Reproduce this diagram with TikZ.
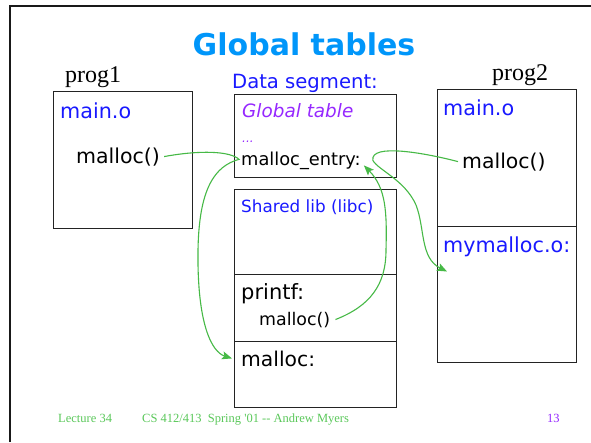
\documentclass[tikz,border=0pt]{standalone}
\usepackage{fontspec}
\setmainfont{DejaVu Sans}
\newfontfamily\serifp{Liberation Serif}
\usetikzlibrary{arrows.meta}
\definecolor{tblue}{RGB}{25,25,255}
\definecolor{tpurple}{RGB}{150,40,255}
\definecolor{ttitle}{RGB}{0,150,250}
\definecolor{tgreen}{RGB}{70,185,70}
\definecolor{fgreen}{RGB}{90,200,90}
\definecolor{boxline}{RGB}{35,35,35}
\begin{document}
\begin{tikzpicture}[x=1pt,y=-1pt,
  lbl/.style={inner sep=0pt, anchor=base west},
  membox/.style={draw=boxline, line width=1.4pt, anchor=north west, inner sep=0pt},
  link/.style={draw=tgreen, line width=1.1pt},
  arr/.style={link, -{Stealth[length=10pt,width=8pt,inset=2pt]}}
]
\useasboundingbox (0,0) rectangle (591,442);
\fill[white] (0,0) rectangle (591,442);
% frame
\draw[line width=2.6pt, black!90] (10,442) -- (10,6) -- (591,6);

% title
\node[inner sep=0pt, anchor=base, text=ttitle, font=\fontsize{30}{34}\selectfont\bfseries] (title) at (304,55) {Global tables};
\node[lbl, font=\serifp\fontsize{24}{28}\selectfont] (p1) at (65,82) {prog1};
\node[lbl, font=\serifp\fontsize{24}{28}\selectfont] (p2) at (492,80) {prog2};
\node[lbl, text=tblue, font=\fontsize{19.6}{23}\selectfont] (ds) at (232,88) {Data segment:};

% boxes
\node[membox, minimum width=139pt, minimum height=137pt] (b1) at (53,91) {};
\node[membox, minimum width=162pt, minimum height=83pt] (gt) at (234,94) {};
\node[membox, minimum width=162pt, minimum height=85pt] (sl) at (234,189) {};
\node[membox, minimum width=162pt, minimum height=67pt] (pf) at (234,274) {};
\node[membox, minimum width=162pt, minimum height=66pt] (ml) at (234,341) {};
\node[membox, minimum width=139pt, minimum height=137pt] (b2) at (437,89) {};
\node[membox, minimum width=139pt, minimum height=136pt] (b3) at (437,226) {};

% prog1 texts
\node[lbl, text=tblue, font=\fontsize{20.7}{24}\selectfont] (mo1) at (60,118) {main.o};
\node[lbl, font=\fontsize{20.5}{24}\selectfont] (m1) at (76,163) {malloc()};

% data segment texts
\node[lbl, text=tpurple, font=\fontsize{18.4}{22}\selectfont\itshape] (gtt) at (242,117) {Global table};
\node[lbl, text=tpurple, font=\fontsize{12}{14}\selectfont\itshape] (dots) at (242,142) {...};
\node[lbl, font=\fontsize{17.8}{21}\selectfont] (entry) at (241,165) {malloc\_entry:};
\node[lbl, text=tblue, font=\fontsize{16.8}{20}\selectfont] (slt) at (241,212) {Shared lib (libc)};
\node[lbl, font=\fontsize{21}{25}\selectfont] (pft) at (241,299) {printf:};
\node[lbl, font=\fontsize{17.4}{21}\selectfont] (m3) at (259,325) {malloc()};
\node[lbl, font=\fontsize{20.3}{24}\selectfont] (mal) at (241,366) {malloc:};

% prog2 texts
\node[lbl, text=tblue, font=\fontsize{20.7}{24}\selectfont] (mo2) at (443,115) {main.o};
\node[lbl, font=\fontsize{20.4}{24}\selectfont] (m2) at (462,168) {malloc()};
\node[lbl, text=tblue, font=\fontsize{20.7}{24}\selectfont] (mm) at (443,252) {mymalloc.o:};

% connectors
\coordinate (cusp1) at ([xshift=-2pt,yshift=1pt]entry.west);
\coordinate (cusp2) at ([xshift=12pt,yshift=0pt]entry.east);
\coordinate (tip1) at ([xshift=-9pt]mal.west);
\coordinate (tip2) at ([xshift=4pt,yshift=-15pt]mm.south west);
\coordinate (tip3) at ([xshift=3pt,yshift=4pt]entry.south east);

\draw[arr] ([xshift=4pt]m1.east) .. controls (200,150) and (230,151) .. (cusp1)
  .. controls (215,166) and (199,188) .. (198,250)
  .. controls (197,325) and (212,352) .. (tip1);
\draw[arr] ([xshift=-4pt]m2.west) .. controls (425,153) and (370,143) .. (cusp2)
  .. controls (378,170) and (405,180) .. (416,205)
  .. controls (425,228) and (420,258) .. (tip2);
\draw[arr] ([xshift=5pt]m3.east) .. controls (370,306) and (386,285) .. (386,250)
  .. controls (387,212) and (386,188) .. (tip3);

% footer
\node[lbl, text=fgreen, font=\serifp\fontsize{12.5}{14}\selectfont] (f1) at (58,422) {Lecture 34};
\node[lbl, text=fgreen, font=\serifp\fontsize{12.5}{14}\selectfont] (f2) at (142,422) {CS 412/413\ \ Spring '01 -- Andrew Myers};
\node[lbl, text=tpurple, font=\serifp\fontsize{12.5}{14}\selectfont] (f3) at (547,422) {13};
\end{tikzpicture}
\end{document}
